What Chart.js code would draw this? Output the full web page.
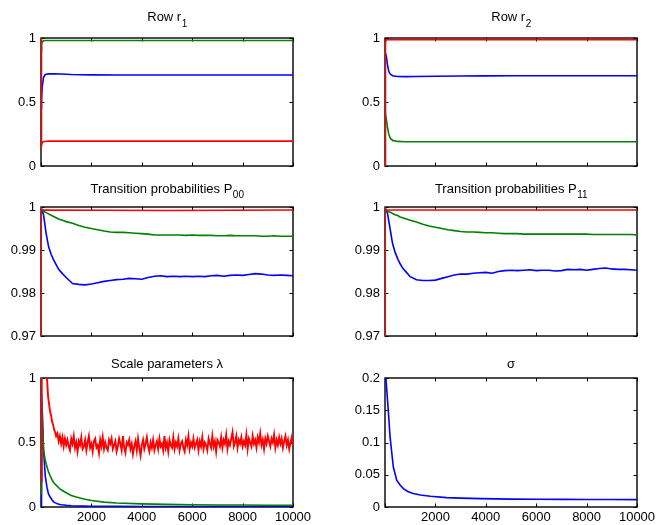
<!DOCTYPE html>
<html lang="en">
<head>
    <meta charset="UTF-8">
    <title>MCMC traces</title>
    <script src="https://cdn.jsdelivr.net/npm/chart.js"></script>
    <style>
        html, body { margin: 0; padding: 0; background: #fff; }
        body { width: 663px; height: 525px; position: relative; overflow: hidden; }
        canvas { position: absolute; }
    </style>
</head>
<body>
<canvas id="c1"></canvas>
<canvas id="c2"></canvas>
<canvas id="c3"></canvas>
<canvas id="c4"></canvas>
<canvas id="c5"></canvas>
<canvas id="c6"></canvas>
<script>
// ---- data ----
const r1X = [0, 20, 50, 100, 150, 200, 300, 500, 800, 1200, 2000, 3000, 4000, 5000, 6000, 7000, 8000, 9000, 10000];
const r1Green = [0.90, 0.95, 0.97, 0.978, 0.98, 0.981, 0.981, 0.98, 0.98, 0.98, 0.98, 0.98, 0.98, 0.98, 0.98, 0.98, 0.98, 0.98, 0.98];
const r1Blue = [0.45, 0.52, 0.62, 0.69, 0.71, 0.717, 0.72, 0.721, 0.719, 0.715, 0.712, 0.711, 0.711, 0.711, 0.711, 0.711, 0.711, 0.711, 0.711];
const r1Red = [1.0, 0.16, 0.185, 0.19, 0.192, 0.193, 0.194, 0.194, 0.194, 0.194, 0.194, 0.194, 0.194, 0.194, 0.194, 0.194, 0.194, 0.194, 0.194];

const r2Red = [0, 0.97, 0.984, 0.986, 0.986, 0.986, 0.986, 0.986, 0.986, 0.986, 0.986, 0.986, 0.986, 0.986, 0.986, 0.986, 0.986, 0.986, 0.986];
const r2Blue = [0.89, 0.89, 0.86, 0.79, 0.74, 0.72, 0.705, 0.699, 0.698, 0.699, 0.701, 0.703, 0.704, 0.705, 0.705, 0.705, 0.705, 0.705, 0.705];
const r2Green = [0.41, 0.40, 0.37, 0.30, 0.25, 0.22, 0.20, 0.192, 0.19, 0.19, 0.19, 0.19, 0.19, 0.19, 0.19, 0.19, 0.19, 0.19, 0.19];

const pX = [0, 10, 100, 200, 300, 400, 500, 600, 700, 850,
    1000, 1250, 1500, 1750, 2000, 2250, 2500, 2750, 3000, 3250, 3500, 3750, 4000, 4250, 4500, 4750,
    5000, 5250, 5500, 5750, 6000, 6250, 6500, 6750, 7000, 7250, 7500, 7750, 8000, 8250, 8500, 8750,
    9000, 9250, 9500, 9750, 10000];
const pRedX = [0, 10, 5000, 10000];
const p00Red = [0.9, 0.9993, 0.9992, 0.9993];
const p00Blue = [1.0, 0.9998, 0.9982, 0.9940, 0.9908, 0.9890, 0.9877, 0.9866, 0.9855, 0.9845,
    0.9836, 0.9822, 0.9820, 0.9819, 0.9821, 0.9824, 0.9827, 0.9829, 0.9831, 0.9832, 0.9834, 0.9833, 0.9832, 0.9836, 0.9839, 0.9840,
    0.9838, 0.9839, 0.9838, 0.9839, 0.9838, 0.9839, 0.9838, 0.9840, 0.9841, 0.9839, 0.9841, 0.9842, 0.9841, 0.9843, 0.9845, 0.9844,
    0.9842, 0.9841, 0.9842, 0.9841, 0.9840];
const p00Green = [1.0, 0.9995, 0.9990, 0.9987, 0.9984, 0.9981, 0.9978, 0.9975, 0.9972, 0.9969,
    0.9966, 0.9962, 0.9957, 0.9953, 0.9950, 0.9947, 0.9944, 0.9942, 0.9941, 0.9941, 0.9940, 0.9939, 0.9938, 0.9937, 0.9935, 0.9935,
    0.9935, 0.9935, 0.9935, 0.9934, 0.9935, 0.9934, 0.9934, 0.9934, 0.9933, 0.9933, 0.9934, 0.9933, 0.9933, 0.9933, 0.9933, 0.9932,
    0.9932, 0.9933, 0.9932, 0.9932, 0.9932];

const p11Red = [0.9, 0.9993, 0.9993, 0.9993];
const p11Blue = [1.0, 0.9998, 0.9985, 0.9950, 0.9915, 0.9895, 0.9880, 0.9868, 0.9858, 0.9848,
    0.9838, 0.9831, 0.9829, 0.9829, 0.9830, 0.9834, 0.9838, 0.9842, 0.9844, 0.9844, 0.9846, 0.9847, 0.9848, 0.9846, 0.9850, 0.9852,
    0.9853, 0.9852, 0.9853, 0.9854, 0.9852, 0.9853, 0.9853, 0.9851, 0.9852, 0.9855, 0.9854, 0.9855, 0.9853, 0.9855, 0.9857, 0.9858,
    0.9856, 0.9855, 0.9855, 0.9854, 0.9853];
const p11Green = [1.0, 0.9995, 0.9990, 0.9988, 0.9985, 0.9982, 0.9980, 0.9977, 0.9975, 0.9972,
    0.9969, 0.9965, 0.9960, 0.9956, 0.9953, 0.9950, 0.9947, 0.9945, 0.9943, 0.9942, 0.9942, 0.9941, 0.9940, 0.9940, 0.9939, 0.9938,
    0.9938, 0.9938, 0.9937, 0.9937, 0.9937, 0.9937, 0.9937, 0.9937, 0.9937, 0.9937, 0.9937, 0.9937, 0.9937, 0.9936, 0.9936, 0.9936,
    0.9936, 0.9936, 0.9936, 0.9936, 0.9935];

const lamX = [0, 20, 60, 100, 170, 240, 300, 370, 440, 500, 570, 650, 750, 830, 1000, 1200, 1400, 1700, 2000, 2500, 3000, 4000, 5000, 6000, 7000, 8000, 9000, 10000];
const lamGreen = [0.1, 0.80, 0.62, 0.44, 0.36, 0.31, 0.27, 0.24, 0.21, 0.19, 0.175, 0.16, 0.14, 0.13, 0.11, 0.09, 0.078, 0.062, 0.05, 0.038, 0.031, 0.024, 0.02, 0.018, 0.016, 0.015, 0.014, 0.013];
const lamBlue = [0.0, 0.87, 0.70, 0.44, 0.24, 0.15, 0.10, 0.075, 0.055, 0.04, 0.032, 0.025, 0.02, 0.017, 0.013, 0.01, 0.008, 0.007, 0.006, 0.005, 0.005, 0.004, 0.004, 0.004, 0.004, 0.004, 0.004, 0.004];
const lamRedX = [0, 30, 100, 180, 240, 280, 320, 360, 400, 440, 480, 520, 560, 600, 650, 700, 750, 800, 850, 900, 950, 1000];
const lamRedEarly = [0.2, 1.3, 1.2, 1.08, 0.99, 0.86, 0.80, 0.74, 0.71, 0.66, 0.64, 0.60, 0.58, 0.55, 0.57, 0.51, 0.55, 0.49, 0.54, 0.47, 0.53, 0.48];
// sampled every 50 iterations from 1050 on
const lamRedTail = [
    0.52, 0.47, 0.44, 0.53, 0.49, 0.55, 0.46, 0.50, 0.43, 0.51,
    0.48, 0.54, 0.45, 0.47, 0.52, 0.44, 0.50, 0.55, 0.46, 0.49,
    0.43, 0.51, 0.53, 0.46, 0.48, 0.42, 0.52, 0.47, 0.54, 0.45,
    0.50, 0.46, 0.44, 0.52, 0.49, 0.53, 0.45, 0.48, 0.51, 0.43,
    0.47, 0.53, 0.49, 0.44, 0.55, 0.46, 0.42, 0.50, 0.48, 0.52,
    0.45, 0.49, 0.41, 0.47, 0.51, 0.44, 0.53, 0.46, 0.40, 0.48,
    0.52, 0.45, 0.49, 0.54, 0.47, 0.43, 0.50, 0.46, 0.52, 0.44,
    0.48, 0.51, 0.45, 0.53, 0.47, 0.49, 0.44, 0.55, 0.46, 0.50,
    0.43, 0.52, 0.48, 0.46, 0.54, 0.45, 0.50, 0.47, 0.53, 0.44,
    0.49, 0.51, 0.46, 0.43, 0.52, 0.48, 0.55, 0.45, 0.50, 0.47,
    0.53, 0.46, 0.49, 0.52, 0.44, 0.51, 0.47, 0.54, 0.45, 0.50,
    0.48, 0.44, 0.53, 0.49, 0.46, 0.55, 0.47, 0.51, 0.43, 0.52,
    0.50, 0.47, 0.54, 0.46, 0.52, 0.49, 0.56, 0.45, 0.51, 0.48,
    0.53, 0.58, 0.47, 0.50, 0.55, 0.46, 0.52, 0.49, 0.54, 0.47,
    0.51, 0.48, 0.56, 0.45, 0.53, 0.50, 0.47, 0.55, 0.49, 0.52,
    0.46, 0.54, 0.50, 0.57, 0.48, 0.52, 0.45, 0.53, 0.49, 0.55,
    0.51, 0.47, 0.53, 0.50, 0.56, 0.46, 0.52, 0.48, 0.54, 0.49,
    0.53, 0.46, 0.51, 0.55, 0.48, 0.52, 0.45, 0.50, 0.54, 0.47
];

const sigX = [0, 40, 130, 200, 330, 465, 600, 730, 900, 1120, 1400, 1800, 2450, 3000, 3800, 5000, 6000, 7000, 8000, 9000, 10000];
const sigVals = [0.21, 0.197, 0.15, 0.109, 0.062, 0.0415, 0.034, 0.0286, 0.024, 0.0208, 0.0185, 0.0166, 0.0146, 0.0138, 0.013, 0.0122, 0.012, 0.0118, 0.0117, 0.0116, 0.0115];

const xTicks = [0, 2000, 4000, 6000, 8000, 10000];

// ---- drawing ----
const BLUE = '#0000ff', GREEN = '#008000', RED = '#ff0000';
const FONT = 'Liberation Sans, Arial, Helvetica, sans-serif';
const FS = 13;

function pts(xs, ys) {
    return xs.map((x, i) => ({ x: x, y: ys[i] }));
}
function line(xs, ys, color, w) {
    return { data: pts(xs, ys), borderColor: color, borderWidth: w || 1.6, pointRadius: 0, tension: 0 };
}
const fmt = v => String(+Number(v).toFixed(4));

const matlabAxes = {
    id: 'matlabAxes',
    beforeDatasetsDraw(chart) {
        const { ctx, chartArea: a, scales } = chart;
        ctx.save();
        ctx.strokeStyle = '#000';
        ctx.lineWidth = 1;
        ctx.beginPath();
        scales.x.ticks.forEach(t => {
            const px = Math.round(scales.x.getPixelForValue(t.value)) + 0.5;
            ctx.moveTo(px, a.bottom); ctx.lineTo(px, a.bottom - 3.5);
            ctx.moveTo(px, a.top); ctx.lineTo(px, a.top + 3.5);
        });
        scales.y.ticks.forEach(t => {
            const py = Math.round(scales.y.getPixelForValue(t.value)) + 0.5;
            ctx.moveTo(a.left, py); ctx.lineTo(a.left + 3.5, py);
            ctx.moveTo(a.right, py); ctx.lineTo(a.right - 3.5, py);
        });
        ctx.stroke();
        ctx.lineWidth = 1.4;
        ctx.strokeRect(a.left, a.top, a.right - a.left, a.bottom - a.top);
        ctx.restore();
    },
    afterDraw(chart, args, opts) {
        const { ctx, chartArea: a } = chart;
        ctx.save();
        ctx.fillStyle = '#000';
        ctx.textBaseline = 'alphabetic';
        ctx.font = FS + 'px ' + FONT;
        const w1 = ctx.measureText(opts.text).width;
        ctx.font = '10px ' + FONT;
        const w2 = opts.sub ? ctx.measureText(opts.sub).width : 0;
        const cx = (a.left + a.right) / 2;
        const x0 = cx - (w1 + w2) / 2;
        const base = a.top + opts.dy;
        ctx.font = FS + 'px ' + FONT;
        ctx.fillText(opts.text, x0, base);
        if (opts.sub) {
            ctx.font = '10px ' + FONT;
            ctx.fillText(opts.sub, x0 + w1 + 0.5, base + 5.5);
        }
        ctx.restore();
    }
};

const LEFT = 41, TOP = 38, RIGHT = 22, BOTTOM = 20;

function panel(id, box, title, yMin, yMax, yStep, datasets, showX) {
    const cv = document.getElementById(id);
    cv.width = LEFT + box.w + RIGHT;
    cv.height = TOP + box.h + BOTTOM;
    cv.style.left = (box.left - LEFT) + 'px';
    cv.style.top = (box.top - TOP) + 'px';
    return new Chart(cv, {
        type: 'line',
        data: { datasets: datasets },
        options: {
            responsive: false,
            animation: false,
            devicePixelRatio: 1,
            layout: { padding: { left: 0, top: TOP, right: RIGHT, bottom: 0 } },
            plugins: { legend: { display: false }, tooltip: { enabled: false }, matlabAxes: title },
            scales: {
                x: {
                    type: 'linear', min: 0, max: 10000,
                    grid: { display: false, drawTicks: false },
                    border: { display: false },
                    afterBuildTicks: s => { s.ticks = xTicks.map(v => ({ value: v })); },
                    afterFit: s => { s.height = BOTTOM; },
                    ticks: {
                        padding: 3, maxRotation: 0, autoSkip: false, color: '#000',
                        font: { family: FONT, size: FS },
                        callback: v => (showX && v !== 0) ? String(v) : ''
                    }
                },
                y: {
                    min: yMin, max: yMax,
                    grid: { display: false, drawTicks: false },
                    border: { display: false },
                    afterFit: s => { s.width = LEFT; },
                    ticks: {
                        stepSize: yStep, padding: 5, color: '#000',
                        font: { family: FONT, size: FS },
                        callback: fmt
                    }
                }
            }
        },
        plugins: [matlabAxes]
    });
}

panel('c1', { left: 41, top: 38, w: 252, h: 128 }, { text: 'Row r', sub: '1', dy: -17 }, 0, 1, 0.5,
    [line(r1X, r1Red, RED), line(r1X, r1Green, GREEN), line(r1X, r1Blue, BLUE)], false);
panel('c2', { left: 385, top: 38, w: 252, h: 128 }, { text: 'Row r', sub: '2', dy: -17 }, 0, 1, 0.5,
    [line(r1X, r2Red, RED), line(r1X, r2Green, GREEN), line(r1X, r2Blue, BLUE)], false);
panel('c3', { left: 41, top: 207, w: 252, h: 129 }, { text: 'Transition probabilities P', sub: '00', dy: -14.5 }, 0.97, 1, 0.01,
    [line(pRedX, p00Red, RED), line(pX, p00Green, GREEN), line(pX, p00Blue, BLUE)], false);
panel('c4', { left: 385, top: 207, w: 252, h: 129 }, { text: 'Transition probabilities P', sub: '11', dy: -14.5 }, 0.97, 1, 0.01,
    [line(pRedX, p11Red, RED), line(pX, p11Green, GREEN), line(pX, p11Blue, BLUE)], false);

const lamRedXs = lamRedX.concat(lamRedTail.map((_, i) => 1050 + 50 * i));
panel('c5', { left: 41, top: 378, w: 252, h: 129 }, { text: 'Scale parameters \u03bb', dy: -10.5 }, 0, 1, 0.5,
    [line(lamRedXs, lamRedEarly.concat(lamRedTail), RED, 1.9), line(lamX, lamGreen, GREEN), line(lamX, lamBlue, BLUE)], true);
panel('c6', { left: 385, top: 378, w: 252, h: 129 }, { text: '\u03c3', dy: -10.5 }, 0, 0.2, 0.05,
    [line(sigX, sigVals, BLUE)], true);
</script>
</body>
</html>
